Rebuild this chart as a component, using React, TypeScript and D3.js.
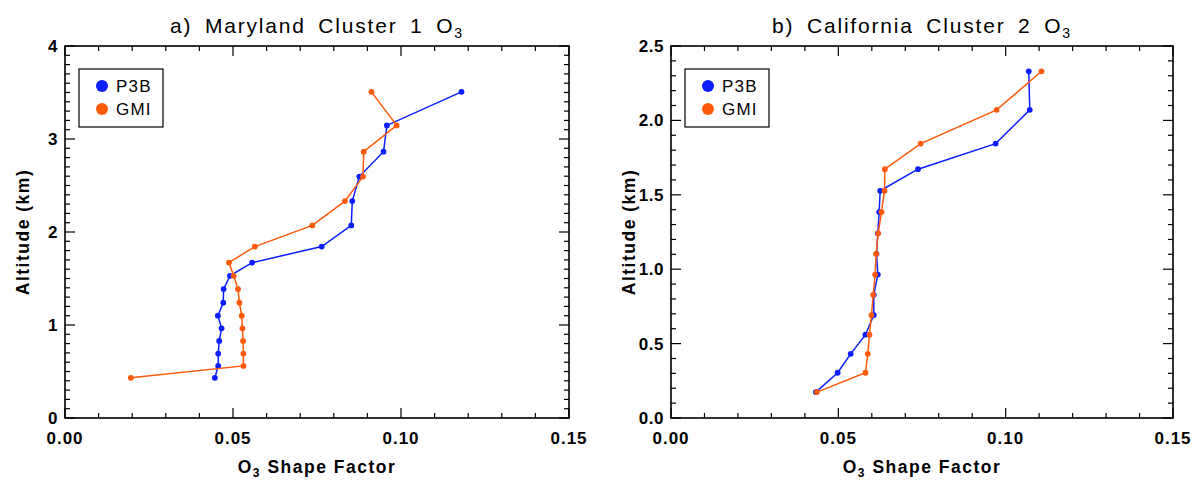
import React from "react";
import * as d3 from "d3";

const leftAlt = [0.432, 0.56, 0.693, 0.829, 0.964, 1.1, 1.239, 1.386, 1.529, 1.671, 1.843, 2.071, 2.332, 2.596, 2.864, 3.146, 3.507];
const leftP3B = [0.0446, 0.0456, 0.0456, 0.0459, 0.0466, 0.0455, 0.0471, 0.0472, 0.0491, 0.0557, 0.0764, 0.0852, 0.0855, 0.0876, 0.0948, 0.0958, 0.118];
const leftGMI = [0.0196, 0.0531, 0.0531, 0.053, 0.0528, 0.0526, 0.0519, 0.0515, 0.0502, 0.0488, 0.0565, 0.0736, 0.0833, 0.0887, 0.0889, 0.0987, 0.0912];

const rightAlt = [0.174, 0.304, 0.431, 0.56, 0.692, 0.828, 0.964, 1.103, 1.241, 1.384, 1.527, 1.672, 1.844, 2.071, 2.33];
const rightP3B = [0.0433, 0.0498, 0.0537, 0.0581, 0.0606, 0.0606, 0.0618, 0.0614, 0.0618, 0.0622, 0.0625, 0.0738, 0.097, 0.1072, 0.1069];
const rightGMI = [0.0436, 0.0581, 0.0588, 0.0593, 0.0599, 0.0604, 0.061, 0.0613, 0.0619, 0.0629, 0.0638, 0.0639, 0.0746, 0.0973, 0.1107];

const xTicks = [0, 0.05, 0.1, 0.15];
const xTickLabels = ["0.00", "0.05", "0.10", "0.15"];
const leftYTicks = [0, 1, 2, 3, 4];
const leftYLabels = ["0", "1", "2", "3", "4"];
const rightYTicks = [0, 0.5, 1, 1.5, 2, 2.5];
const rightYLabels = ["0.0", "0.5", "1.0", "1.5", "2.0", "2.5"];
const seriesNames = ["P3B", "GMI"];

const BLUE = "#0a1eff";
const ORANGE = "#ff5a0a";
const SANS = "'Liberation Sans', Arial, sans-serif";

type PanelProps = {
  x0: number; x1: number; y0: number; y1: number;
  yMax: number; yTicks: number[]; yLabels: string[]; yMinorStep: number;
  alt: number[]; p3b: number[]; gmi: number[];
  titlePre: string;
};

function Panel(p: PanelProps) {
  const xs = d3.scaleLinear().domain([0, 0.15]).range([p.x0, p.x1]);
  const ys = d3.scaleLinear().domain([0, p.yMax]).range([p.y1, p.y0]);
  const xMinor = d3.range(0, 0.15 + 1e-9, 0.01);
  const yMinor = d3.range(0, p.yMax + 1e-9, p.yMinorStep);
  const line = d3.line<[number, number]>().x(d => xs(d[0])).y(d => ys(d[1]));
  const series = [
    { name: seriesNames[0], color: BLUE, vals: p.p3b },
    { name: seriesNames[1], color: ORANGE, vals: p.gmi },
  ];
  const cx = (p.x0 + p.x1) / 2;
  const major = 10, minor = 5;
  return (
    <g>
      {/* title */}
      <text x={cx} y={33} textAnchor="middle" fontFamily={SANS} fontSize={21} letterSpacing={1.8} wordSpacing={5} fill="#000">
        {p.titlePre}O<tspan fontSize={14} dy={5}>3</tspan>
      </text>
      {/* series */}
      {series.map(s => {
        const pts: [number, number][] = s.vals.map((v, i) => [v, p.alt[i]]);
        return (
          <g key={s.name}>
            <path d={line(pts) || ""} fill="none" stroke={s.color} strokeWidth={1.5} />
            {pts.map((d, i) => (
              <circle key={i} cx={xs(d[0])} cy={ys(d[1])} r={2.9} fill={s.color} />
            ))}
          </g>
        );
      })}
      {/* ticks */}
      {xMinor.map((t, i) => {
        const isMajor = Math.abs(t / 0.05 - Math.round(t / 0.05)) < 1e-6;
        const L = isMajor ? major : minor;
        return (
          <g key={"xt" + i} stroke="#000" strokeWidth={1.2}>
            <line x1={xs(t)} x2={xs(t)} y1={p.y1} y2={p.y1 - L} />
            <line x1={xs(t)} x2={xs(t)} y1={p.y0} y2={p.y0 + L} />
          </g>
        );
      })}
      {yMinor.map((t, i) => {
        const isMajor = p.yTicks.some(m => Math.abs(m - t) < 1e-6);
        const L = isMajor ? major : minor;
        return (
          <g key={"yt" + i} stroke="#000" strokeWidth={1.2}>
            <line x1={p.x0} x2={p.x0 + L} y1={ys(t)} y2={ys(t)} />
            <line x1={p.x1} x2={p.x1 - L} y1={ys(t)} y2={ys(t)} />
          </g>
        );
      })}
      <rect x={p.x0} y={p.y0} width={p.x1 - p.x0} height={p.y1 - p.y0} fill="none" stroke="#000" strokeWidth={1.6} />
      {/* tick labels */}
      {xTicks.map((t, i) => (
        <text key={"xl" + i} x={xs(t)} y={444} textAnchor="middle" fontFamily={SANS} fontSize={17} fontWeight="bold" letterSpacing={1} fill="#000">
          {xTickLabels[i]}
        </text>
      ))}
      {p.yTicks.map((t, i) => (
        <text key={"yl" + i} x={p.x0 - 7} y={ys(t) + 6} textAnchor="end" fontFamily={SANS} fontSize={17} fontWeight="bold" letterSpacing={0.5} fill="#000">
          {p.yLabels[i]}
        </text>
      ))}
      {/* x axis title */}
      <text x={cx} y={473} textAnchor="middle" fontFamily={SANS} fontSize={17.5} fontWeight="bold" letterSpacing={1.5} fill="#000">
        O<tspan fontSize={12} dy={4}>3</tspan><tspan dy={-4}> Shape Factor</tspan>
      </text>
      {/* y axis title */}
      <text transform={`translate(${p.x0 - 36},${(p.y0 + p.y1) / 2}) rotate(-90)`} textAnchor="middle" fontFamily={SANS} fontSize={17.5} fontWeight="bold" letterSpacing={1.5} fill="#000">
        Altitude (km)
      </text>
      {/* legend */}
      <rect x={p.x0 + 14} y={69} width={84} height={58} fill="#fff" stroke="#000" strokeWidth={1.2} />
      {series.map((s, i) => (
        <g key={"lg" + i}>
          <circle cx={p.x0 + 37} cy={86 + i * 23} r={6} fill={s.color} />
          <text x={p.x0 + 51} y={92 + i * 23} fontFamily={SANS} fontSize={17} letterSpacing={1.2} fill="#000">{s.name}</text>
        </g>
      ))}
    </g>
  );
}

export default function App() {
  return (
    <svg width={1185} height={480} style={{ display: "block" }}>
      <rect x={0} y={0} width={1185} height={480} fill="#fff" />
      <g transform="translate(-8,-8)">
        <Panel x0={65} x1={569} y0={46} y1={418} yMax={4} yTicks={leftYTicks} yLabels={leftYLabels} yMinorStep={0.1}
          alt={leftAlt} p3b={leftP3B} gmi={leftGMI} titlePre="a) Maryland Cluster 1 " />
        <Panel x0={671} x1={1173} y0={46} y1={418} yMax={2.5} yTicks={rightYTicks} yLabels={rightYLabels} yMinorStep={0.1}
          alt={rightAlt} p3b={rightP3B} gmi={rightGMI} titlePre="b) California Cluster 2 " />
      </g>
    </svg>
  );
}
